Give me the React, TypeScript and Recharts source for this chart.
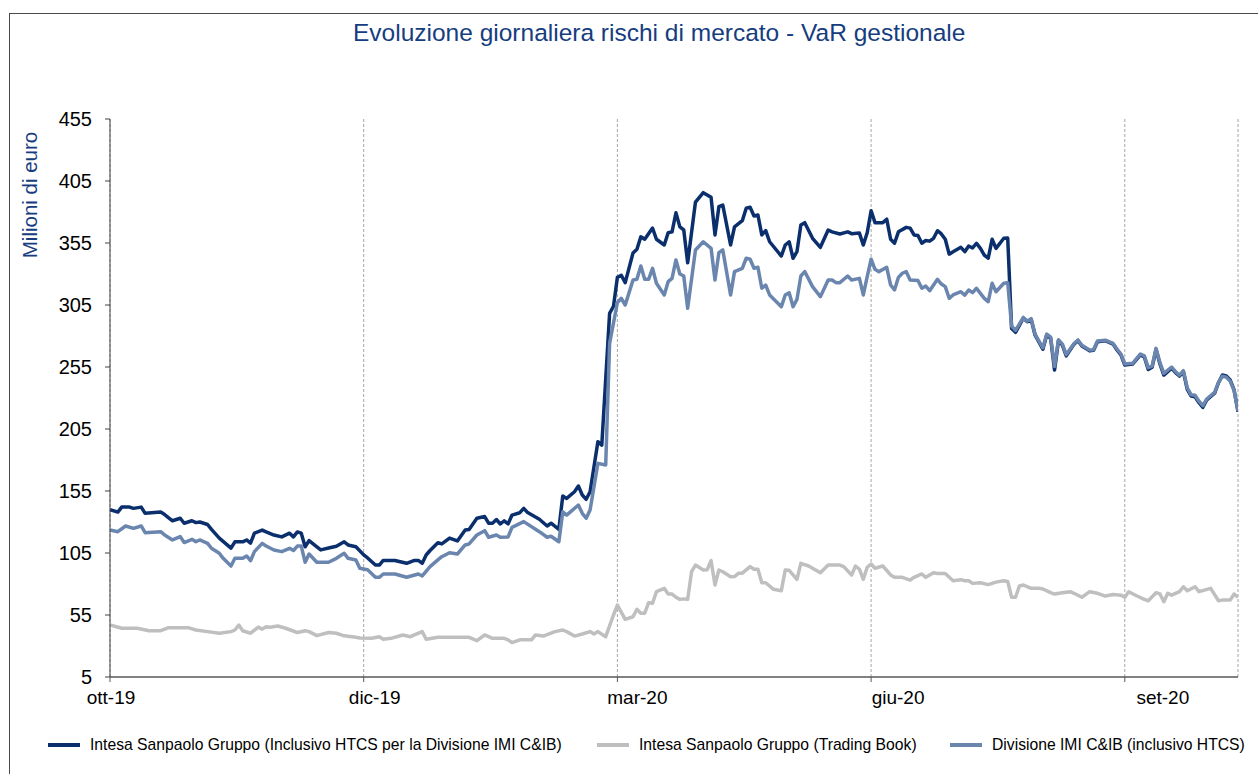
import React from "react";
import { LineChart, Line, XAxis, YAxis, CartesianGrid } from "recharts";

// ---- data ----
const tickDays = [0, 65, 130, 195, 260];
const tickLabels = ["ott-19", "dic-19", "mar-20", "giu-20", "set-20"];
const yTicks = [5, 55, 105, 155, 205, 255, 305, 355, 405, 455];

const seriesNames = [
  "Intesa Sanpaolo Gruppo (Inclusivo HTCS per la Divisione IMI C&IB)",
  "Intesa Sanpaolo Gruppo (Trading Book)",
  "Divisione IMI C&IB (inclusivo HTCS)",
];

const darkDays = [0,2,3,5,6,8,9,13,14,16,18,19,21,22,23,25,26,28,31,32,34,35,36,37,39,40,42,44,46,47,48,49,50,51,53,54,56,58,60,61,63,65,66,68,69,70,73,76,78,79,80,81,82,84,85,87,89,91,92,94,96,97,98,99,100,101,102,103,105,106,107,110,112,113,115,116,117,119,120,121,122,123,125,126,128,129,130,131,132,134,135,136,137,139,140,142,143,144,145,146,147,148,150,152,154,155,156,157,159,160,162,163,164,165,166,167,168,169,172,173,174,175,176,177,178,180,182,184,185,187,189,190,192,193,194,195,196,198,199,200,201,202,204,205,206,207,208,209,210,211,212,213,214,215,216,218,219,220,221,222,223,224,225,226,227,229,230,231,232,234,235,236,237,239,240,241,242,243,244,245,247,248,249,251,252,253,255,257,258,259,260,262,264,265,266,267,268,269,270,272,273,274,275,276,277,278,279,280,281,283,284,285,286,287,288,289];
const darkVals = [140,138,142,142,141,142,137,138,136,131,133,129,131,129.5,130,128,124,117,109,114,114,115.5,113,121,123.5,122,119.5,118,121,118,122,121,110,115,110,107.5,109,110.5,114,111.5,110,103.5,101,95.3,95.3,99,99,96.7,99,99,96.7,103.4,107,113.3,112.3,117,114.7,123.5,124,133,134.4,129,129,132,128.4,131,128.5,135.6,137.5,141,137.6,132.2,126.8,129,124.1,151,149,154.4,159,151.8,148.3,154.4,194.8,192,298.3,304,327.3,329,323,347,350,360,358,367,358,353.4,363.3,364,379.4,368,365.5,339,388,395.6,391.8,361.5,384.3,385.6,353.4,368,373,383,383.8,376.8,377.6,361.5,365,356,344.5,353.4,356,342.7,348,369.5,371.4,358.8,351.5,365.5,364,362.3,364,362.5,363,353.4,363.3,381,371.4,371.4,374.2,358,354.8,364,367.6,367,361.5,361,354.8,357,356.5,358.8,364.9,362.3,358,346,348,351.5,348,352.6,351,354.8,350.7,345.3,342.7,358,350.7,358.8,359,286,283,294.3,291.5,293.5,280.8,269.3,280.8,278.1,252.6,276.2,272.7,264,273.5,276.2,272,268,268.5,275.4,276.2,273.5,268.7,264.7,256.6,257.4,264.7,263,253,254.8,269.3,257.4,248.5,254,250.5,247.7,251.2,237,231.6,231,226.2,222.5,228.4,233.8,242.3,248.5,247.7,244.5,236.5,219];

const grayDays = [0,3,7,10,13,15,20,22,25,28,31,32,33,34,36,38,39,40,41,43,45,48,50,51,53,56,58,60,63,64,67,69,70,72,75,77,78,80,81,84,92,94,96,98,101,102,103,105,108,109,111,114,116,117,119,121,123,124,125,127,129,130,132,134,135,136,137,138,139,140,142,143,144,145,146,147,148,149,150,152,153,154,155,156,157,159,160,161,162,164,165,166,167,168,170,172,173,174,176,177,179,182,184,187,188,190,191,192,193,194,195,196,198,200,201,203,205,206,208,209,211,212,214,216,218,219,220,221,223,225,227,229,230,231,232,233,234,236,238,239,241,242,244,246,247,249,251,253,255,257,259,260,261,263,265,266,268,269,270,271,272,274,275,276,278,279,282,284,285,287,288,289];
const grayVals = [46.9,44.3,44.3,42.3,42.3,44.8,44.8,42.9,41.6,40.3,41.6,42.9,46.9,42.3,40.3,45.2,43.6,45.6,45.2,46.1,44.3,40.9,42.3,41.6,38.4,40.9,40.3,38.2,37.1,36.5,36.2,37.5,35.4,36.2,38.9,37.5,38.9,41.6,35.4,37,37,34.3,38.9,36.2,36.2,35,32.7,35,35,38.9,38,41.6,42.9,41.6,38,39.7,41.6,39.7,41.6,37.5,55,63,51.5,53.6,59.6,56.4,56.5,64.9,64.5,73.8,76.5,71.9,71.9,69.3,67.6,68,67.6,89.9,95.3,91.3,91.5,98.8,79.2,91.3,89.9,85.9,86,88.6,88.7,94,91.9,91.9,81.1,81,75.7,74.6,91.3,91,83.8,96.7,94.5,89.1,95.3,95.3,94,87.3,94.5,91.9,83.8,93.5,96.1,92.7,94.5,87.3,85.4,85.4,83.2,85.4,88.1,85.4,89.1,88.5,88.5,82.6,83.5,82.6,82.6,80.5,81,79.5,81.5,82.6,82,69.3,69.3,78.4,79.2,76.5,76.5,76,73,71.9,73,73.8,72.5,69.3,73.8,72.5,70.3,71.5,71,69.3,73.8,70.5,67.6,66.5,73,72,65.7,72.5,71,73.8,77.8,74.6,77.8,73.8,76.5,66.5,67,67,71.9,69.3];

const blueDays = [0,2,4,6,8,9,13,14,16,18,19,21,22,23,25,26,28,29,31,32,34,35,36,37,39,40,42,44,46,47,48,49,50,51,53,56,58,60,61,63,64,66,68,69,70,73,76,79,80,82,84,85,87,89,91,92,94,96,97,99,100,102,103,106,110,112,113,115,116,117,120,121,122,123,125,127,128,130,131,132,134,135,136,137,138,139,140,142,143,144,145,146,147,148,150,152,154,155,156,157,159,160,162,163,164,165,166,167,168,169,172,173,174,175,176,177,178,180,182,184,185,186,187,189,190,192,193,194,195,196,197,199,200,201,202,203,204,205,207,208,209,210,211,212,213,214,215,216,218,219,220,221,222,223,224,225,226,227,229,230,231,232,234,235,236,237,239,240,241,242,243,244,245,247,248,249,251,252,253,255,257,258,259,260,262,264,265,266,267,268,269,270,272,273,274,275,276,277,278,279,280,281,283,284,285,286,287,288,289];
const blueVals = [123.6,122.2,126.8,124.9,126.8,121.4,122.2,119.5,115.5,118.2,113.4,116,114.1,115.5,112.8,108.8,104.8,100.7,94.5,100.7,100.7,102.6,98.8,106.1,112.8,110.6,107.4,106.1,108.8,107,110.6,110.6,97.5,104.2,97.5,97.5,100.7,104.8,100.7,99.4,92.7,91.5,85.4,85.4,88.1,88.1,85.4,88.1,86.5,94,99.4,102,105.2,104.2,111.5,112.3,119.5,123,117.7,119.5,117.7,118,125.7,130.3,122.2,117.7,118.5,114.1,138.3,135.6,143.7,137,133,139.7,177.3,176,274,307,310.4,305,325.2,325.7,336.5,325.7,325.7,334.6,322.5,313.1,323.8,326.5,341.3,330,328.4,302.3,349.4,356,350.7,325.2,347.2,349.4,313.1,331.9,334.6,342.7,341.9,334.6,335.4,318.5,321.1,313.1,303.6,313.1,314.9,303.6,309.5,328.4,331.9,319.8,311.7,325.2,325.2,323,323,328.4,325.2,326.5,313.1,327.8,341.9,333.8,331.9,335.4,321.1,317.1,327.3,330.6,331.9,325.2,324.8,318.5,320.3,316.5,321.1,325.7,321.9,319.8,310.4,313.1,315.7,313,317.1,315,318.5,314.4,310.4,307.7,322.5,315.7,322.5,323,288,284.5,295,292,294,281.5,270.5,281.5,279,255.5,277,273.5,265,274,276.8,272.5,268.8,269,276,276.6,274,269.5,265.5,257.5,258,265.5,264,254.5,255.8,270,258.5,249.8,255,251.2,248.5,252,238.2,232.6,232.2,227.4,223.8,229.2,234.5,242.5,247.6,246.8,243.6,236,219.5];

// ---- build tables ----
const toRows = (days: number[], vals: number[]) => days.map((d, i) => ({ d, v: vals[i] }));
const darkData = toRows(darkDays, darkVals);
const grayData = toRows(grayDays, grayVals);
const blueData = toRows(blueDays, blueVals);

const DARK = "#0B2F6D";
const GRAY = "#BFBFBF";
const BLUE = "#6A86AF";
const NAVY_TEXT = "#163D80";
const FONT = "'Liberation Sans', Arial, sans-serif";

const labelShift = [1, 11, 20, 27, 38];

const XTick = (props: any) => {
  const { x, y, payload, index } = props;
  const i = tickDays.indexOf(payload.value);
  return (
    <text
      x={x + (labelShift[i >= 0 ? i : index] || 0)}
      y={y}
      dy="0.71em"
      textAnchor="middle"
      fontSize={19}
      fontFamily={FONT}
      fill="#000"
    >
      {tickLabels[i >= 0 ? i : index]}
    </text>
  );
};

const legendColors = [DARK, GRAY, BLUE];
const legendLeft = [48, 597, 950];

export default function App() {
  return (
    <div
      style={{
        position: "fixed",
        left: 0,
        top: 0,
        width: 1258,
        height: 774,
        overflow: "hidden",
        background: "#fff",
        fontFamily: FONT,
      }}
    >
      <div
        style={{
          position: "absolute",
          left: 9,
          top: 13,
          width: 1300,
          height: 800,
          border: "1px solid #4a4a4a",
          boxSizing: "border-box",
        }}
      />
      <div
        style={{
          position: "absolute",
          left: 353,
          top: 21,
          fontSize: 24.5,
          lineHeight: "24px",
          color: NAVY_TEXT,
          whiteSpace: "nowrap",
        }}
      >
        Evoluzione giornaliera rischi di mercato - VaR gestionale
      </div>
      <div
        style={{
          position: "absolute",
          left: 30,
          top: 195,
          transform: "translate(-50%, -50%) rotate(-90deg)",
          fontSize: 20.5,
          lineHeight: "20px",
          color: NAVY_TEXT,
          whiteSpace: "nowrap",
        }}
      >
        Milioni di euro
      </div>
      <div style={{ position: "absolute", left: 0, top: 0 }}>
        <LineChart width={1258} height={774} margin={{ top: 119, right: 20, left: 0, bottom: 67 }}>
          <CartesianGrid horizontal={false} vertical={true} stroke="#a6a6a6" strokeDasharray="3 2" />
          <XAxis
            type="number"
            dataKey="d"
            domain={[0, 289]}
            ticks={tickDays}
            interval={0}
            height={30}
            tickSize={5}
            tickMargin={9}
            axisLine={{ stroke: "#595959", strokeWidth: 1.5 }}
            tickLine={{ stroke: "#595959" }}
            tick={<XTick />}
            allowDataOverflow
          />
          <YAxis
            type="number"
            domain={[5, 455]}
            ticks={yTicks}
            interval={0}
            width={110}
            tickSize={5}
            tickMargin={13}
            axisLine={{ stroke: "#404040" }}
            tickLine={{ stroke: "#404040" }}
            tick={{ fontSize: 20, fill: "#000", fontFamily: FONT }}
            allowDataOverflow
          />
          <Line
            data={darkData}
            dataKey="v"
            type="linear"
            stroke={DARK}
            strokeWidth={3.5}
            dot={false}
            isAnimationActive={false}
            strokeLinejoin="round"
          />
          <Line
            data={grayData}
            dataKey="v"
            type="linear"
            stroke={GRAY}
            strokeWidth={3.5}
            dot={false}
            isAnimationActive={false}
            strokeLinejoin="round"
          />
          <Line
            data={blueData}
            dataKey="v"
            type="linear"
            stroke={BLUE}
            strokeWidth={3.5}
            dot={false}
            isAnimationActive={false}
            strokeLinejoin="round"
          />
        </LineChart>
      </div>
      {seriesNames.map((name, i) => (
        <div
          key={name}
          style={{
            position: "absolute",
            left: legendLeft[i],
            top: 735,
            height: 20,
            display: "flex",
            alignItems: "center",
            whiteSpace: "nowrap",
          }}
        >
          <span
            style={{
              display: "inline-block",
              width: 32,
              height: 4,
              background: legendColors[i],
              marginRight: 10,
            }}
          />
          <span style={{ fontSize: 15.7, color: "#000" }}>{name}</span>
        </div>
      ))}
    </div>
  );
}
